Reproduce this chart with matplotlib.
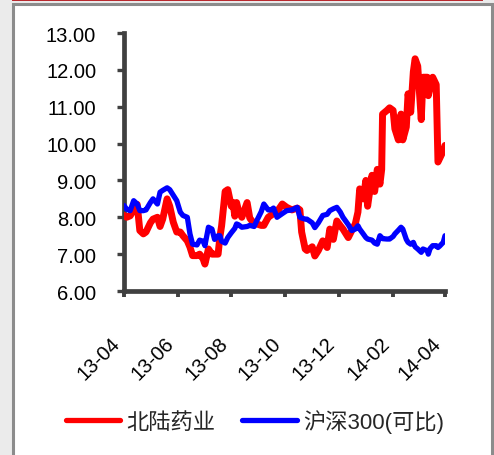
import matplotlib
matplotlib.use('Agg')
import matplotlib.pyplot as plt
from matplotlib.patches import Rectangle
from matplotlib.lines import Line2D
from matplotlib.transforms import ScaledTranslation
import pandas as pd

dates = [
    '2013-04-01', '2013-04-04', '2013-04-08', '2013-04-12', '2013-04-16', '2013-04-19',
    '2013-04-23', '2013-04-26', '2013-05-01', '2013-05-04', '2013-05-09', '2013-05-12',
    '2013-05-15', '2013-05-20', '2013-05-23', '2013-05-27', '2013-05-31', '2013-06-04',
    '2013-06-07', '2013-06-12', '2013-06-15', '2013-06-18', '2013-06-23', '2013-06-26',
    '2013-06-30', '2013-07-02', '2013-07-06', '2013-07-10', '2013-07-13', '2013-07-17',
    '2013-07-19', '2013-07-21', '2013-07-25', '2013-07-28', '2013-08-01', '2013-08-03',
    '2013-08-05', '2013-08-07', '2013-08-09', '2013-08-13', '2013-08-19', '2013-08-22',
    '2013-08-27', '2013-08-30', '2013-09-04', '2013-09-07', '2013-09-12', '2013-09-15',
    '2013-09-18', '2013-09-22', '2013-09-28', '2013-10-03', '2013-10-09', '2013-10-15',
    '2013-10-18', '2013-10-20', '2013-10-24', '2013-10-26', '2013-11-01', '2013-11-04',
    '2013-11-08', '2013-11-13', '2013-11-18', '2013-11-21', '2013-11-25', '2013-11-29',
    '2013-12-03', '2013-12-06', '2013-12-12', '2013-12-16', '2013-12-20', '2013-12-23',
    '2013-12-25', '2013-12-29', '2014-01-01', '2014-01-03', '2014-01-08', '2014-01-11',
    '2014-01-14', '2014-01-17', '2014-01-19', '2014-01-20', '2014-01-25', '2014-01-28',
    '2014-02-01', '2014-02-03', '2014-02-07', '2014-02-10', '2014-02-12', '2014-02-16',
    '2014-02-18', '2014-02-21', '2014-02-24', '2014-02-26', '2014-03-01', '2014-03-05',
    '2014-03-07', '2014-03-12', '2014-03-13', '2014-03-15', '2014-03-18', '2014-03-22',
    '2014-03-24', '2014-03-26', '2014-03-30', '2014-04-01',
]

beilu = [
    8.05, 8.00, 8.04, 8.20, 8.35, 7.64,
    7.55, 7.60, 7.85, 7.95, 8.00, 7.75,
    7.95, 8.50, 8.30, 7.87, 7.60, 7.60,
    7.50, 7.36, 7.19, 6.96, 6.96, 7.00,
    6.87, 6.73, 7.14, 7.00, 7.00, 7.00,
    7.46, 7.77, 8.70, 8.75, 8.30, 8.40,
    8.03, 8.40, 8.20, 8.00, 8.40, 7.98,
    7.82, 7.82, 7.78, 7.78, 8.00, 8.05,
    8.10, 8.15, 8.36, 8.27, 8.20, 8.25,
    8.20, 7.60, 7.14, 7.10, 7.20, 6.95,
    7.10, 7.36, 7.18, 7.68, 7.40, 7.90,
    7.77, 7.68, 7.45, 7.64, 7.82, 8.14,
    8.77, 8.50, 9.00, 8.30, 9.14, 8.70,
    9.30, 8.90, 9.30, 10.80, 10.90, 10.97,
    10.90, 10.40, 10.10, 10.80, 10.10, 10.45,
    11.35, 10.85, 11.95, 12.30, 12.10, 10.65,
    11.80, 11.80, 11.30, 11.50, 11.80, 11.60,
    9.50, 9.60, 9.80, 9.95,
]

hs300 = [
    8.32, 8.22, 8.18, 8.45, 8.36, 8.18,
    8.18, 8.20, 8.40, 8.50, 8.36, 8.68,
    8.73, 8.80, 8.75, 8.60, 8.45, 8.14,
    8.05, 8.00, 7.55, 7.27, 7.25, 7.38,
    7.35, 7.23, 7.73, 7.68, 7.40, 7.50,
    7.50, 7.35, 7.30, 7.45, 7.58, 7.64,
    7.70, 7.82, 7.80, 7.73, 7.75, 7.78,
    7.75, 7.91, 8.15, 8.36, 8.20, 8.20,
    8.25, 8.00, 8.10, 8.18, 8.20, 8.27,
    8.00, 7.98, 7.95, 7.95, 7.85, 7.72,
    7.85, 8.05, 8.08, 8.18, 8.23, 8.27,
    8.14, 8.00, 7.80, 7.64, 7.68, 7.77,
    7.68, 7.55, 7.45, 7.41, 7.38, 7.30,
    7.27, 7.50, 7.45, 7.42, 7.41, 7.41,
    7.48, 7.55, 7.65, 7.73, 7.68, 7.40,
    7.32, 7.27, 7.32, 7.20, 7.14, 7.05,
    7.14, 7.09, 7.00, 7.15, 7.23, 7.23,
    7.18, 7.22, 7.32, 7.50,
]

series_names = ['北陆药业', '沪深300(可比)']
tick_dates = ['2013-04-01', '2013-06-01', '2013-08-01', '2013-10-01',
              '2013-12-01', '2014-02-01', '2014-04-01']
tick_labels = ['13-04', '13-06', '13-08', '13-10', '13-12', '14-02', '14-04']
y_ticks = [6, 7, 8, 9, 10, 11, 12, 13]

W, H = 494, 456
fig = plt.figure(figsize=(W / 100, H / 100), dpi=100)
fig.patch.set_facecolor('#ebebeb')

# outer panel frame
fig.patches.append(Rectangle((12.5 / W, -0.1), (491.5 - 12.5) / W, 1.1 - 5 / H,
                             transform=fig.transFigure, facecolor='white',
                             edgecolor='#8c8c8c', lw=2.2, zorder=-2))
fig.lines.append(Line2D([13 / W, 482 / W], [1 - 0.8 / H, 1 - 0.8 / H],
                        transform=fig.transFigure, color='#b8242a', lw=1.4, zorder=-1))

ax = fig.add_axes([124 / W, 1 - 292 / H, (445 - 124) / W, (292 - 34) / H])
ax.set_facecolor('none')

x = pd.to_datetime(dates)
ax.plot(x, beilu, color='#ff0000', lw=5.0, solid_joinstyle='round',
        solid_capstyle='round', label=series_names[0], zorder=3)
ax.plot(x, hs300, color='#0000ff', lw=3.8, solid_joinstyle='round',
        solid_capstyle='round', label=series_names[1], zorder=4)

ax.set_xlim(pd.Timestamp(tick_dates[0]), pd.Timestamp(tick_dates[-1]))
ax.set_ylim(6, 13)
ax.set_xticks(pd.to_datetime(tick_dates))
ax.set_xticklabels(tick_labels, rotation=45, ha='right', va='top',
                   fontsize=14.5, family='Liberation Sans')
ax.set_yticks(y_ticks)
ax.set_yticklabels([f'{v:.2f}' for v in y_ticks], fontsize=14.5, family='Liberation Sans')

shift = ScaledTranslation(4 / 100, 0, fig.dpi_scale_trans)
for lab in ax.get_xticklabels():
    lab.set_transform(lab.get_transform() + shift)

for s in ['top', 'right']:
    ax.spines[s].set_visible(False)
for s in ['left', 'bottom']:
    ax.spines[s].set_color('#404040')
    ax.spines[s].set_linewidth(3.4)
ax.tick_params(axis='y', direction='out', length=5, width=2.4, color='#404040',
               pad=15, labelcolor='black')
ax.tick_params(axis='x', direction='out', length=4, width=2.8, color='#404040',
               pad=26, labelcolor='black')

leg = fig.legend(loc='center', bbox_to_anchor=(255 / W, 1 - 422 / H), ncol=2,
                 frameon=False, handlelength=2.45, handletextpad=0.3,
                 columnspacing=1.2,
                 prop={'family': ['Liberation Sans', 'Noto Sans CJK SC'], 'size': 16})
for t in leg.get_texts():
    t.set_color('#262626')
for h in leg.legend_handles:
    h.set_linewidth(3.8)

fig.savefig('out.png', dpi=100, facecolor=fig.get_facecolor())
